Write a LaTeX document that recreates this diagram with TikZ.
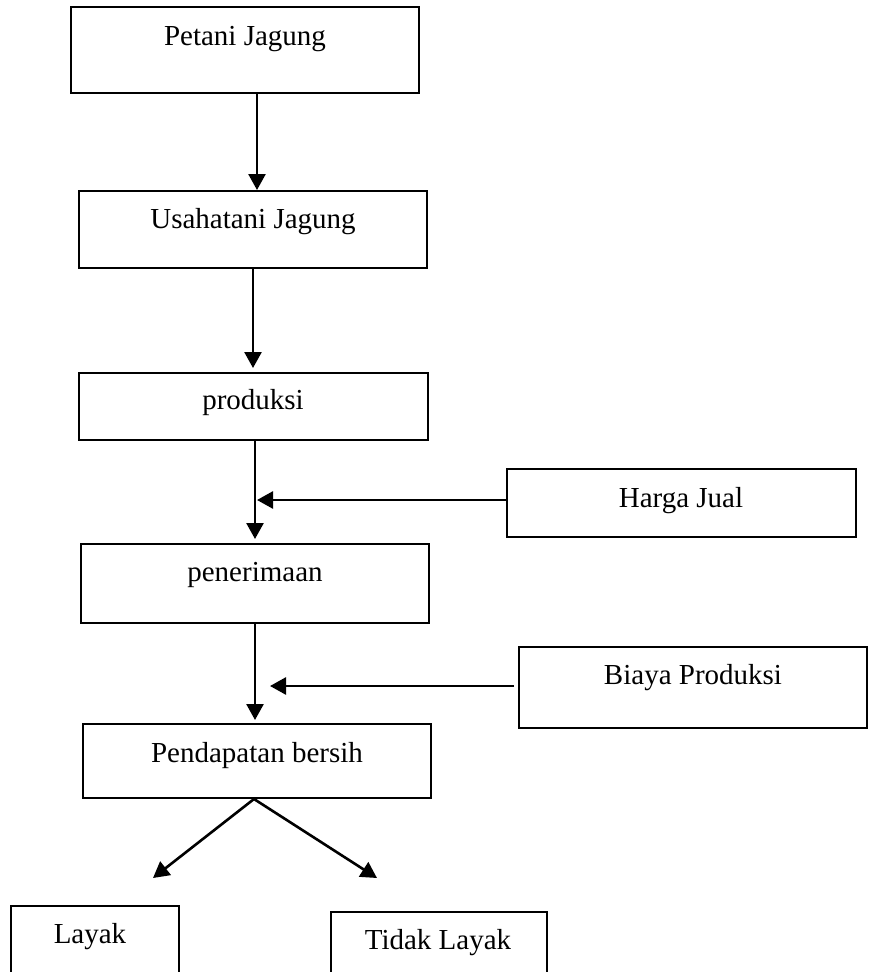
\documentclass[tikz,border=0pt]{standalone}
\usepackage{fontspec}
\setmainfont{Liberation Serif}
\usetikzlibrary{arrows.meta,calc}
\tikzset{
  box/.style={draw=black, line width=2pt, rectangle, inner sep=0pt, fill=white},
  lbl/.style={inner sep=0pt, anchor=base, font=\fontsize{29}{34}\selectfont},
  arr/.style={line width=2.6pt, -{Triangle[length=16pt,width=17pt]}},
}
\begin{document}
\begin{tikzpicture}[x=1pt,y=-1pt]
\useasboundingbox (0,0) rectangle (873,972);
\clip (0,0) rectangle (873,972);
\fill[white] (0,0) rectangle (873,972);
% boxes
\node[box, minimum width=348pt, minimum height=86pt] (petani) at (245,50) {};
\node[box, minimum width=348pt, minimum height=77pt] (usaha) at (253,229.5) {};
\node[box, minimum width=349pt, minimum height=67pt] (produksi) at (253.5,406.5) {};
\node[box, minimum width=348pt, minimum height=79pt] (terima) at (255,583.5) {};
\node[box, minimum width=348pt, minimum height=74pt] (pendapatan) at (257,761) {};
\node[box, minimum width=349pt, minimum height=68pt] (harga) at (681.5,503) {};
\node[box, minimum width=348pt, minimum height=81pt] (biaya) at (693,687.5) {};
\node[box, minimum width=168pt, minimum height=94pt] (layak) at (95,953) {};
\node[box, minimum width=216pt, minimum height=88pt] (tidak) at (439,956) {};
% labels
\node[lbl] (tpetani) at (245,45) {Petani Jagung};
\node[lbl] (tusaha) at (253,228) {Usahatani Jagung};
\node[lbl] (tproduksi) at (253,409) {produksi};
\node[lbl] (tterima) at (255,581) {penerimaan};
\node[lbl] (tpendapatan) at (257,762) {Pendapatan bersih};
\node[lbl] (tharga) at (681,507) {Harga Jual};
\node[lbl] (tbiaya) at (693,684) {Biaya Produksi};
\node[lbl] (tlayak) at (90,943) {Layak};
\node[lbl] (ttidak) at (438,949) {Tidak Layak};
% connectors
\coordinate (apex) at ([xshift=-3pt]pendapatan.south);
\coordinate (tipL) at (153,878);
\coordinate (tipR) at (377,878);
\draw[arr] ([xshift=12pt]petani.south) -- ([xshift=12pt]petani.south |- usaha.north);
\draw[arr] (usaha.south) -- ($(usaha.south |- produksi.north)+(0,-4)$);
\draw[arr] ([xshift=1.5pt]produksi.south) -- ($([xshift=1.5pt]produksi.south |- terima.north)+(0,-4)$);
\draw[arr] ([yshift=3pt]harga.west) -- ++(-249,0);
\draw[arr] (terima.south) -- ($(terima.south |- pendapatan.north)+(0,-3)$);
\draw[arr] ([xshift=-4pt,yshift=1.5pt]biaya.west) -- ++(-244,0);
\draw[arr] (apex) -- (tipL);
\draw[arr] (apex) -- (tipR);
\end{tikzpicture}
\end{document}
